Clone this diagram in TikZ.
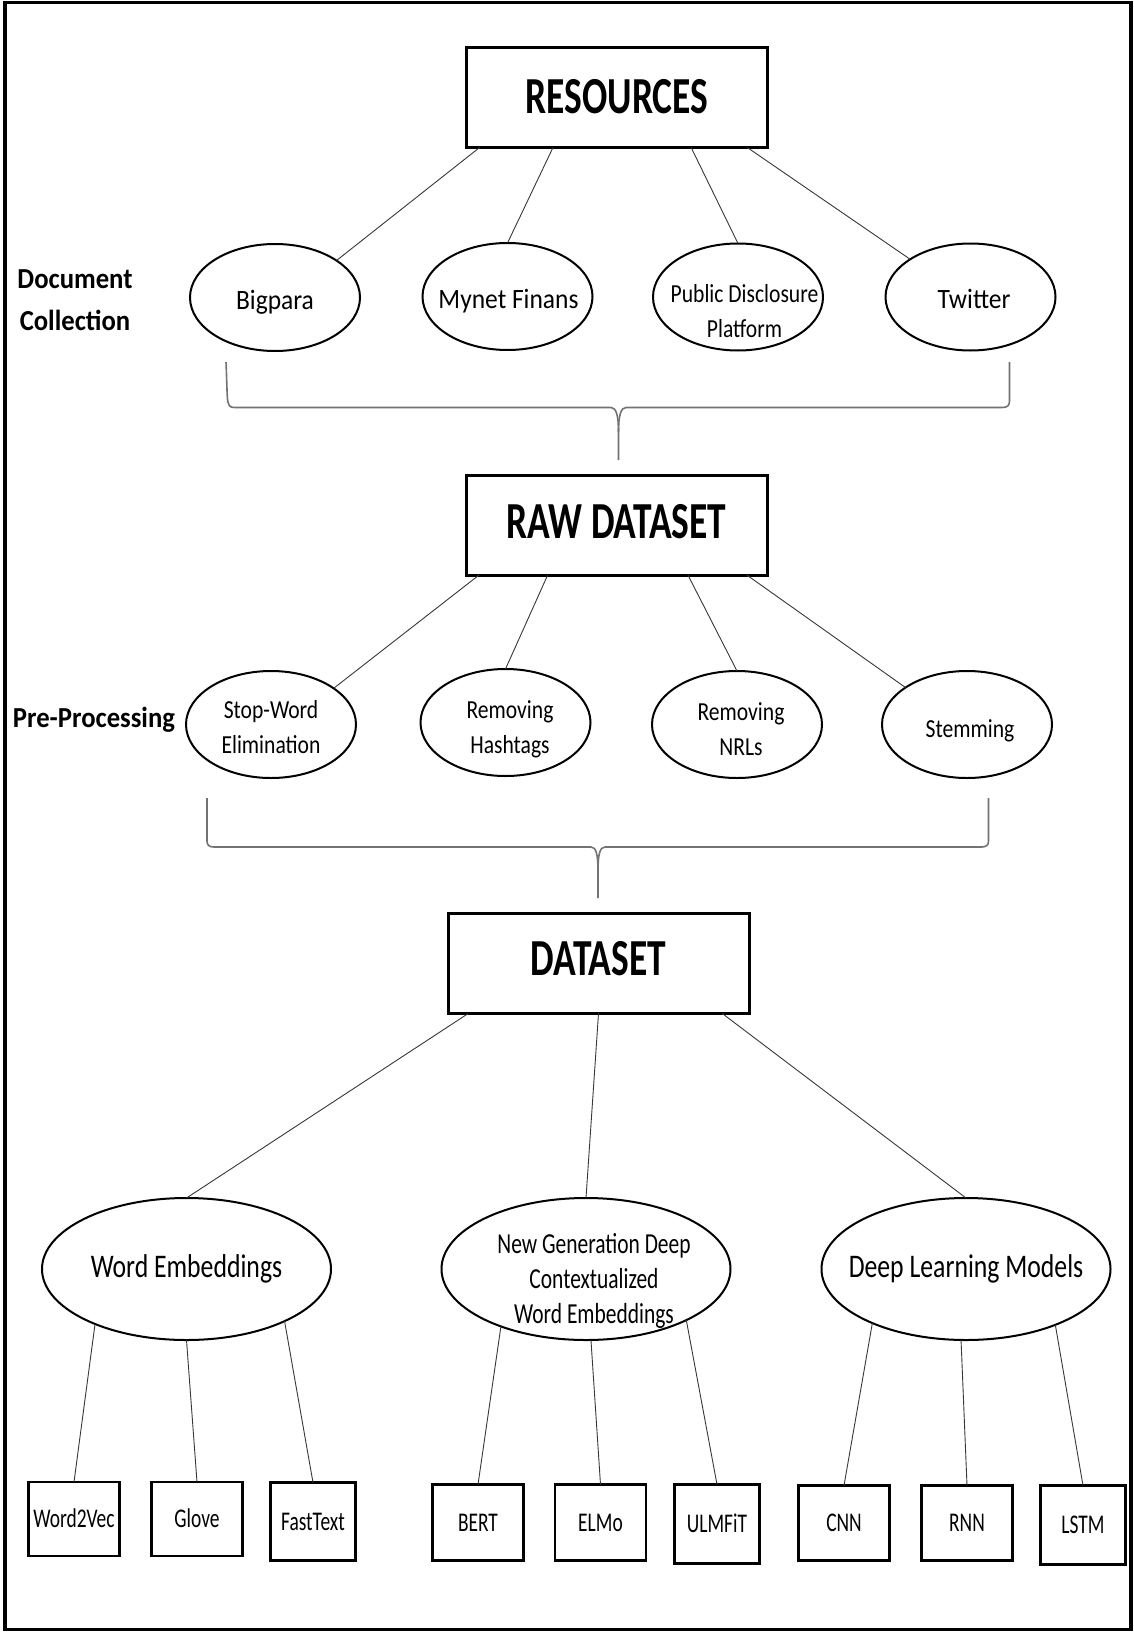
\documentclass[tikz,border=0pt]{standalone}
\usepackage{fontspec}
\setmainfont{Carlito}
% condensed cuts of Carlito for the different text groups
\newfontfamily\headfont{Carlito}[FakeStretch=0.72]
\newfontfamily\leaffont{Carlito}[FakeStretch=0.72]
\newfontfamily\srcfont{Carlito}[FakeStretch=0.91]
\newfontfamily\stepfont{Carlito}[FakeStretch=0.83]
\newfontfamily\bigfont{Carlito}[FakeStretch=0.78]
\newfontfamily\ngfont{Carlito}[FakeStretch=0.74]
\newfontfamily\sidefont{Carlito}[FakeStretch=0.92]
\usetikzlibrary{shapes.geometric}

\begin{document}
\begin{tikzpicture}[x=1pt, y=-1pt,
  every node/.style={inner sep=0pt, outer sep=0pt},
  headbox/.style={draw, line width=3pt, minimum width=301pt, minimum height=100pt,
    font=\headfont\bfseries\fontsize{52}{60}\selectfont, text height=33pt},
  srcell/.style={ellipse, draw, line width=2pt, minimum width=170pt, minimum height=107pt},
  bigell/.style={ellipse, draw, line width=2pt, minimum width=289pt, minimum height=142pt},
  leafbox/.style={draw, line width=2.5pt, minimum width=91pt, minimum height=74pt,
    font=\leaffont\fontsize{27}{32}\selectfont, text height=17pt, text depth=0pt},
  narrowleaf/.style={leafbox, minimum width=85pt, minimum height=79pt},
  srctext/.style={font=\srcfont\fontsize{28}{35}\selectfont, text height=18pt, text depth=6pt},
  steptext/.style={font=\stepfont\fontsize{26}{35}\selectfont, align=center},
  stepline/.style={font=\stepfont\fontsize{26}{35}\selectfont, text height=17pt, text depth=6pt},
  bigtext/.style={font=\bigfont\fontsize{33}{40}\selectfont},
  ngtext/.style={font=\ngfont\fontsize{29}{35}\selectfont, align=center},
  sidetext/.style={font=\sidefont\bfseries\fontsize{29}{42}\selectfont, align=center},
  link/.style={draw=black!78, line width=0.9pt},
  bracket/.style={draw=black!55, line width=1.6pt, line join=round},
]
\useasboundingbox (0,0) rectangle (1133,1632);
\fill[white] (0,0) rectangle (1133,1632);
\draw[line width=3.5pt] (5,2.5) rectangle (1131,1629.5);

% --- document collection ---
\node[headbox, text depth=1.5pt] (res) at (617,97.5) {RESOURCES};
\node[srcell, label={[srctext, yshift=-5.5pt]center:Bigpara}] (bigpara) at (275,297.5) {};
\node[srcell, label={[srctext, xshift=1pt, yshift=-6pt]center:Mynet Finans}] (mynet) at (507.5,296.5) {};
\node[srcell, label={[steptext, xshift=6.5pt, yshift=-14pt]center:Public Disclosure\\Platform}] (kap) at (738,297) {};
\node[srcell, label={[srctext, xshift=3.5pt, yshift=-5pt]center:Twitter}] (twitter) at (970.5,297) {};
\node[sidetext] (doccoll) at (75,300) {Document\\Collection};

\draw[link] (res.200) -- (bigpara.31);
\draw[link] (res.218) -- (mynet.north);
\draw[link] (res.326) -- (kap.north);
\draw[link] (res.339) -- (twitter.148);

% brace gathering the sources
\draw[bracket] (226,362) .. controls (227,385) and (227,400) .. (228,402)
  .. controls (229,406) and (230,407.5) .. (235,407.5)
  -- (611,407.5) .. controls (616,407.5) and (618.5,415) .. (618.5,432) -- (618.5,460);
\draw[bracket] (1009.5,362) -- (1009.5,401) .. controls (1009.5,406) and (1007,407.5) .. (1002,407.5)
  -- (626,407.5) .. controls (621,407.5) and (618.5,415) .. (618.5,432);

% --- pre-processing ---
\node[headbox, text depth=6pt] (raw) at (616.5,525) {RAW DATASET};
\node[srcell, label={[steptext, yshift=-3pt]center:Stop-Word\\Elimination}] (stopword) at (271,724.5) {};
\node[srcell, label={[steptext, xshift=4.5pt, yshift=-7pt]center:Removing\\Hashtags}] (hashtags) at (505.5,722.5) {};
\node[srcell, label={[steptext, xshift=4pt, yshift=-4.5pt]center:Removing\\NRLs}] (nrls) at (737,724.5) {};
\node[srcell, label={[stepline, xshift=3pt, yshift=-7pt]center:Stemming}] (stemming) at (967,724.5) {};
\node[sidetext, anchor=base] (preproc) at (94,727) {Pre-Processing};

\draw[link] (raw.200) -- (stopword.30);
\draw[link] (raw.216) -- (hashtags.north);
\draw[link] (raw.325) -- (nrls.north);
\draw[link] (raw.339) -- (stemming.149);

% brace gathering the pre-processing steps
\draw[bracket] (207,798) -- (207,841) .. controls (207,845) and (209,847) .. (214,847)
  -- (591,847) .. controls (596,847) and (598,854) .. (598,871) -- (598,898);
\draw[bracket] (988.5,798) -- (988.5,841) .. controls (988.5,845) and (986.5,847) .. (981.5,847)
  -- (605,847) .. controls (600,847) and (598,854) .. (598,871);

% --- dataset and model families ---
\node[headbox, text depth=9pt] (ds) at (598.5,963.5) {DATASET};
\node[bigell, label={[bigtext]center:Word Embeddings}] (we) at (186.5,1269) {};
\node[bigell, label={[ngtext, xshift=8pt, yshift=-11.5pt]center:New Generation Deep\\Contextualized\\Word Embeddings}] (ng) at (586,1269) {};
\node[bigell, label={[bigtext]center:Deep Learning Models}] (dl) at (966,1269) {};

\draw[link] (ds.201) -- (we.north);
\draw[link] (ds.270) -- (ng.north);
\draw[link] (ds.338) -- (dl.north);

\node[leafbox] (w2v) at (74,1519) {Word2Vec};
\node[leafbox] (glove) at (197,1519) {Glove};
\node[narrowleaf, minimum height=78pt] (fasttext) at (313,1521.5) {FastText};
\node[leafbox, minimum height=76pt] (bert) at (478,1522.5) {BERT};
\node[leafbox, minimum height=76pt] (elmo) at (600.5,1522.5) {ELMo};
\node[narrowleaf] (ulmfit) at (717,1524) {ULMFiT};
\node[leafbox, minimum height=75pt] (cnn) at (844,1523) {CNN};
\node[leafbox, minimum height=75pt] (rnn) at (967,1523) {RNN};
\node[narrowleaf] (lstm) at (1083,1525) {LSTM};

\draw[link] (we.211) -- (w2v.north);
\draw[link] (we.270) -- (glove.north);
\draw[link] (we.332) -- (fasttext.north);
\draw[link] (ng.214) -- (bert.north);
\draw[link] (ng.274) -- (elmo.north);
\draw[link] (ng.333) -- (ulmfit.north);
\draw[link] (dl.210) -- (cnn.north);
\draw[link] (dl.266) -- (rnn.north);
\draw[link] (dl.328) -- (lstm.north);
\end{tikzpicture}
\end{document}
